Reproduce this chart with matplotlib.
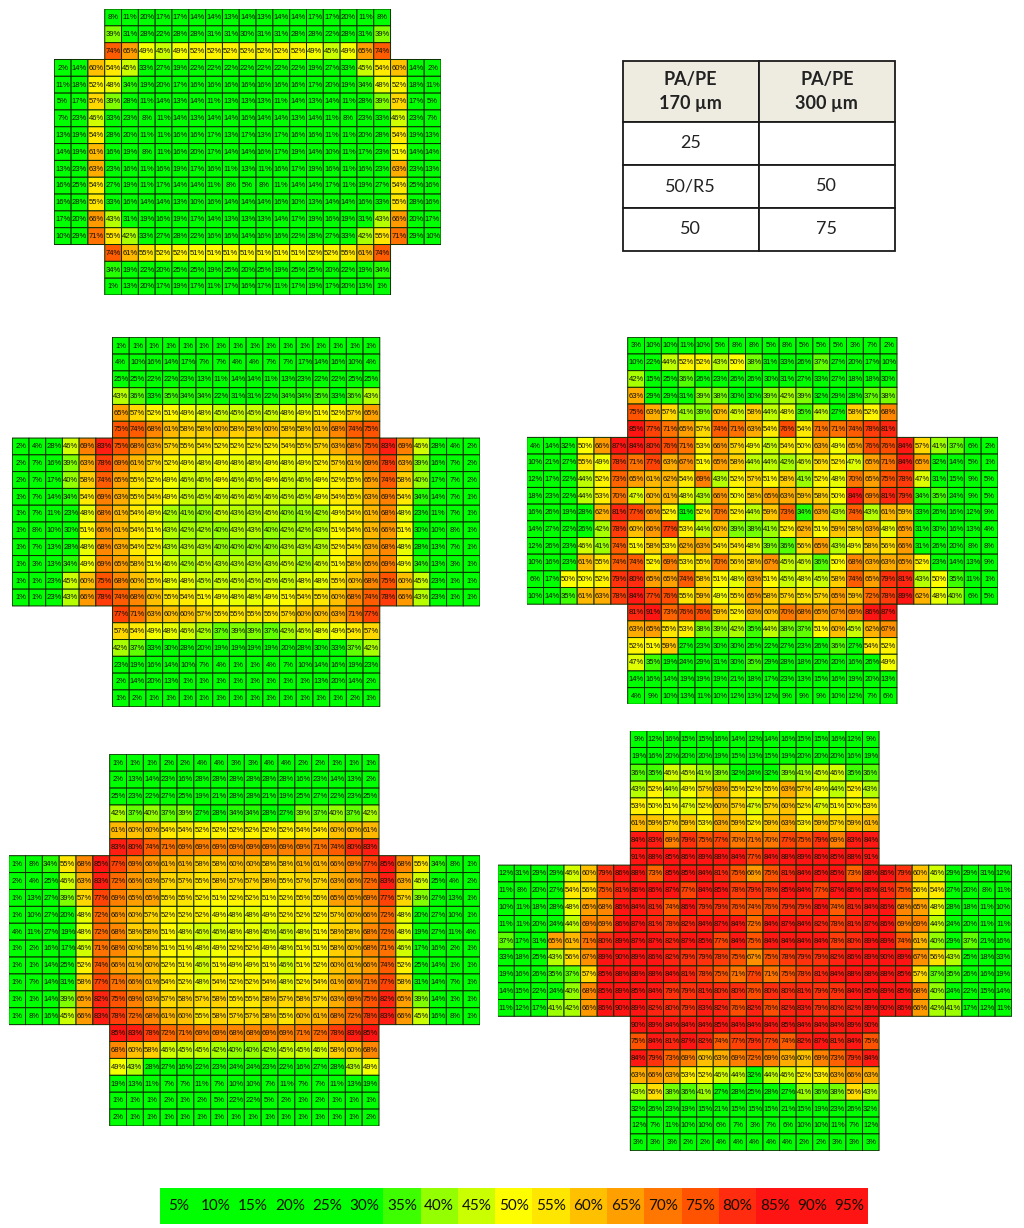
# Film thickness / transmission maps for five shot patterns, with colour key and sample table

import numpy as np
import matplotlib
matplotlib.use("Agg")
import matplotlib.pyplot as plt
from matplotlib.colors import LinearSegmentedColormap, Normalize

# Panel values, row by row. Short rows are centred in the grid.
panel_a = [
    [8, 11, 20, 17, 17, 14, 14, 13, 14, 13, 14, 14, 17, 17, 20, 11, 8],
    [39, 31, 28, 22, 28, 28, 31, 31, 30, 31, 31, 28, 28, 22, 28, 31, 39],
    [74, 65, 49, 45, 49, 52, 52, 52, 52, 52, 52, 52, 49, 45, 49, 65, 74],
    [2, 14, 60, 54, 45, 33, 27, 19, 22, 22, 22, 22, 22, 22, 22, 19, 27, 33, 45, 54, 60, 14, 2],
    [11, 18, 52, 48, 34, 19, 20, 17, 16, 16, 16, 16, 16, 16, 16, 17, 20, 19, 34, 48, 52, 18, 11],
    [5, 17, 57, 39, 28, 11, 14, 13, 14, 11, 13, 13, 13, 11, 14, 13, 14, 11, 28, 39, 57, 17, 5],
    [7, 23, 46, 33, 23, 8, 11, 14, 13, 14, 14, 16, 14, 14, 13, 14, 11, 8, 23, 33, 46, 23, 7],
    [13, 19, 54, 28, 20, 11, 11, 16, 16, 17, 13, 17, 13, 17, 16, 16, 11, 11, 20, 28, 54, 19, 13],
    [14, 19, 61, 16, 19, 8, 11, 16, 20, 17, 14, 14, 16, 17, 19, 14, 10, 11, 17, 23, 51, 14, 14],
    [13, 23, 63, 23, 16, 11, 16, 19, 17, 16, 11, 13, 11, 16, 17, 19, 16, 11, 16, 23, 63, 23, 13],
    [16, 25, 54, 27, 19, 11, 17, 14, 14, 11, 8, 5, 8, 11, 14, 14, 17, 11, 19, 27, 54, 25, 16],
    [16, 28, 55, 33, 16, 14, 14, 13, 10, 16, 14, 14, 14, 16, 10, 13, 14, 14, 16, 33, 55, 28, 16],
    [17, 20, 66, 43, 31, 19, 16, 19, 17, 14, 13, 13, 13, 14, 17, 19, 16, 19, 31, 43, 66, 20, 17],
    [10, 29, 71, 55, 42, 33, 27, 28, 22, 16, 16, 14, 16, 16, 22, 28, 27, 33, 42, 55, 71, 29, 10],
    [74, 61, 55, 52, 52, 51, 51, 51, 51, 51, 51, 51, 52, 52, 55, 61, 74],
    [34, 19, 22, 20, 25, 25, 19, 25, 20, 25, 19, 25, 25, 20, 22, 19, 34],
    [1, 13, 20, 17, 19, 17, 11, 17, 16, 17, 11, 17, 19, 17, 20, 13, 1],
]

panel_b = [
    [1, 1, 1, 1, 1, 1, 1, 1, 1, 1, 1, 1, 1, 1, 1, 1],
    [4, 10, 16, 14, 17, 7, 7, 4, 4, 7, 7, 17, 14, 16, 10, 4],
    [25, 25, 22, 22, 23, 13, 11, 14, 14, 11, 13, 23, 22, 22, 25, 25],
    [43, 36, 33, 35, 34, 34, 22, 31, 31, 22, 34, 34, 35, 33, 36, 43],
    [65, 57, 52, 51, 49, 48, 45, 45, 45, 45, 48, 49, 51, 52, 57, 65],
    [75, 74, 68, 61, 58, 58, 60, 58, 58, 60, 58, 58, 61, 68, 74, 75],
    [2, 4, 28, 46, 69, 83, 75, 68, 63, 57, 55, 54, 52, 52, 52, 52, 54, 55, 57, 63, 68, 75, 83, 69, 46, 28, 4, 2],
    [2, 7, 16, 39, 63, 78, 69, 61, 57, 52, 49, 48, 49, 48, 48, 49, 48, 49, 52, 57, 61, 69, 78, 63, 39, 16, 7, 2],
    [2, 7, 17, 40, 58, 74, 65, 55, 52, 49, 46, 46, 49, 46, 46, 49, 46, 46, 49, 52, 55, 65, 74, 58, 40, 17, 7, 2],
    [1, 7, 14, 34, 54, 69, 63, 55, 54, 49, 45, 45, 46, 46, 46, 46, 45, 45, 49, 54, 55, 63, 69, 54, 34, 14, 7, 1],
    [1, 7, 11, 23, 48, 68, 61, 54, 49, 42, 41, 40, 45, 43, 43, 45, 40, 41, 42, 49, 54, 61, 68, 48, 23, 11, 7, 1],
    [1, 8, 10, 30, 51, 66, 61, 54, 51, 43, 42, 42, 40, 43, 43, 40, 42, 42, 43, 51, 54, 61, 66, 51, 30, 10, 8, 1],
    [1, 7, 13, 28, 48, 68, 63, 54, 52, 43, 43, 43, 40, 40, 40, 40, 43, 43, 43, 52, 54, 63, 68, 48, 28, 13, 7, 1],
    [1, 3, 13, 34, 49, 69, 65, 58, 51, 46, 42, 45, 43, 43, 43, 43, 45, 42, 46, 51, 58, 65, 69, 49, 34, 13, 3, 1],
    [1, 1, 23, 45, 60, 75, 68, 60, 55, 48, 48, 45, 45, 45, 45, 45, 45, 48, 48, 55, 60, 68, 75, 60, 45, 23, 1, 1],
    [1, 1, 23, 43, 66, 78, 74, 68, 60, 55, 54, 51, 49, 48, 48, 49, 51, 54, 55, 60, 68, 74, 78, 66, 43, 23, 1, 1],
    [77, 71, 63, 60, 60, 57, 55, 55, 55, 55, 57, 60, 60, 63, 71, 77],
    [57, 54, 49, 48, 46, 42, 37, 39, 39, 37, 42, 46, 48, 49, 54, 57],
    [42, 37, 33, 30, 28, 20, 19, 19, 19, 19, 20, 28, 30, 33, 37, 42],
    [23, 19, 16, 14, 10, 7, 4, 1, 1, 4, 7, 10, 14, 16, 19, 23],
    [2, 14, 20, 13, 1, 1, 1, 1, 1, 1, 1, 1, 13, 20, 14, 2],
    [1, 2, 1, 1, 1, 1, 1, 1, 1, 1, 1, 1, 1, 1, 2, 1],
]

panel_c = [
    [3, 10, 10, 11, 10, 5, 8, 8, 5, 8, 5, 5, 5, 3, 7, 2],
    [10, 22, 44, 52, 52, 43, 50, 38, 31, 33, 26, 37, 27, 20, 17, 10],
    [42, 15, 25, 36, 26, 23, 26, 26, 30, 31, 27, 33, 27, 18, 18, 30],
    [63, 29, 29, 31, 39, 38, 30, 30, 39, 42, 39, 32, 29, 28, 37, 38],
    [75, 63, 57, 41, 39, 60, 46, 58, 44, 48, 35, 44, 27, 58, 52, 68],
    [85, 77, 71, 65, 57, 74, 71, 63, 54, 76, 54, 71, 71, 74, 78, 81],
    [4, 14, 32, 50, 66, 87, 84, 80, 76, 71, 53, 66, 57, 49, 45, 54, 50, 63, 49, 65, 76, 76, 84, 57, 41, 37, 6, 2],
    [10, 21, 27, 55, 49, 78, 71, 77, 63, 67, 51, 65, 58, 44, 44, 42, 46, 56, 52, 47, 65, 71, 84, 65, 32, 14, 5, 1],
    [12, 17, 22, 44, 52, 73, 65, 61, 62, 54, 69, 43, 52, 57, 51, 58, 41, 52, 48, 70, 65, 75, 78, 47, 31, 15, 9, 5],
    [18, 23, 22, 44, 53, 70, 47, 60, 61, 48, 43, 66, 50, 58, 65, 63, 59, 58, 50, 84, 69, 81, 79, 34, 35, 24, 9, 5],
    [16, 26, 19, 28, 62, 81, 77, 66, 52, 31, 52, 70, 52, 44, 59, 73, 34, 63, 43, 74, 43, 61, 59, 33, 26, 16, 12, 9],
    [14, 27, 22, 26, 42, 78, 60, 66, 77, 53, 44, 60, 39, 38, 41, 52, 62, 51, 59, 58, 63, 48, 65, 31, 30, 16, 13, 4],
    [12, 26, 23, 46, 41, 74, 51, 58, 53, 62, 63, 54, 54, 48, 39, 36, 56, 65, 43, 49, 58, 56, 66, 31, 26, 20, 8, 8],
    [10, 16, 23, 61, 55, 74, 74, 52, 69, 53, 55, 70, 56, 58, 67, 45, 46, 36, 50, 68, 63, 63, 65, 52, 23, 14, 13, 9],
    [6, 17, 50, 50, 52, 79, 80, 65, 65, 74, 58, 51, 48, 63, 51, 45, 48, 45, 58, 74, 65, 79, 81, 43, 50, 35, 11, 1],
    [10, 14, 35, 61, 63, 78, 84, 77, 76, 55, 59, 49, 55, 65, 58, 57, 55, 57, 65, 59, 72, 78, 89, 62, 48, 40, 6, 5],
    [81, 91, 73, 76, 76, 59, 52, 63, 60, 70, 68, 65, 67, 69, 86, 87],
    [63, 65, 55, 53, 38, 39, 42, 35, 44, 38, 37, 51, 60, 45, 62, 67],
    [52, 51, 59, 27, 23, 30, 30, 26, 22, 27, 23, 26, 36, 27, 54, 52],
    [47, 35, 19, 24, 29, 31, 30, 35, 29, 28, 18, 20, 20, 16, 26, 49],
    [14, 16, 14, 19, 19, 19, 21, 18, 17, 23, 13, 15, 16, 19, 20, 13],
    [4, 9, 10, 13, 11, 10, 12, 13, 12, 9, 9, 9, 10, 12, 7, 6],
]

panel_d = [
    [1, 1, 1, 2, 2, 4, 4, 3, 3, 4, 4, 2, 2, 1, 1, 1],
    [2, 13, 14, 23, 16, 28, 28, 28, 28, 28, 28, 16, 23, 14, 13, 2],
    [25, 23, 22, 27, 25, 19, 21, 28, 28, 21, 19, 25, 27, 22, 23, 25],
    [42, 37, 40, 37, 39, 27, 28, 34, 34, 28, 27, 39, 37, 40, 37, 42],
    [61, 60, 60, 54, 54, 52, 52, 52, 52, 52, 52, 54, 54, 60, 60, 61],
    [83, 80, 74, 71, 69, 69, 69, 69, 69, 69, 69, 69, 71, 74, 80, 83],
    [1, 8, 34, 55, 68, 85, 77, 69, 66, 61, 61, 58, 58, 60, 60, 58, 58, 61, 61, 66, 69, 77, 85, 68, 55, 34, 8, 1],
    [2, 4, 25, 46, 63, 83, 72, 66, 63, 57, 57, 55, 58, 57, 57, 58, 55, 57, 57, 63, 66, 72, 83, 63, 46, 25, 4, 2],
    [1, 13, 27, 39, 57, 77, 69, 65, 65, 55, 55, 52, 51, 52, 52, 51, 52, 55, 55, 65, 65, 69, 77, 57, 39, 27, 13, 1],
    [1, 10, 27, 20, 48, 72, 66, 60, 57, 52, 52, 52, 49, 48, 48, 49, 52, 52, 52, 57, 60, 66, 72, 48, 20, 27, 10, 1],
    [4, 11, 27, 19, 48, 72, 68, 58, 58, 51, 48, 46, 46, 48, 48, 46, 46, 48, 51, 58, 58, 68, 72, 48, 19, 27, 11, 4],
    [1, 2, 16, 17, 46, 71, 68, 60, 58, 51, 51, 48, 49, 52, 52, 49, 48, 51, 51, 58, 60, 68, 71, 46, 17, 16, 2, 1],
    [1, 1, 14, 25, 52, 74, 66, 61, 60, 52, 51, 46, 51, 49, 49, 51, 46, 51, 52, 60, 61, 66, 74, 52, 25, 14, 1, 1],
    [1, 7, 14, 31, 58, 77, 71, 66, 61, 54, 52, 48, 54, 52, 52, 54, 48, 52, 54, 61, 66, 71, 77, 58, 31, 14, 7, 1],
    [1, 1, 14, 39, 65, 82, 75, 69, 63, 57, 58, 57, 58, 55, 55, 58, 57, 58, 57, 63, 69, 75, 82, 65, 39, 14, 1, 1],
    [1, 8, 16, 45, 66, 83, 78, 72, 68, 61, 60, 55, 58, 57, 57, 58, 55, 60, 61, 68, 72, 78, 83, 66, 45, 16, 8, 1],
    [85, 83, 78, 72, 71, 69, 69, 68, 68, 69, 69, 71, 72, 78, 83, 85],
    [68, 60, 58, 46, 45, 45, 42, 40, 40, 42, 45, 45, 46, 58, 60, 68],
    [49, 43, 28, 27, 16, 22, 23, 24, 24, 23, 22, 16, 27, 28, 43, 49],
    [19, 13, 11, 7, 7, 11, 7, 10, 10, 7, 11, 7, 7, 11, 13, 19],
    [1, 1, 1, 2, 1, 2, 5, 22, 22, 5, 2, 1, 2, 1, 1, 1],
    [2, 1, 1, 1, 1, 1, 1, 1, 1, 1, 1, 1, 1, 1, 1, 2],
]

panel_e = [
    [9, 12, 16, 15, 15, 16, 14, 12, 14, 16, 15, 15, 16, 12, 9],
    [19, 16, 20, 20, 20, 19, 15, 13, 15, 19, 20, 20, 20, 16, 19],
    [36, 35, 46, 45, 41, 39, 32, 24, 32, 39, 41, 45, 46, 35, 36],
    [43, 52, 44, 49, 57, 63, 55, 52, 55, 63, 57, 49, 44, 52, 43],
    [53, 50, 51, 47, 52, 60, 57, 47, 57, 60, 52, 47, 51, 50, 53],
    [61, 59, 57, 59, 53, 63, 59, 52, 59, 63, 53, 59, 57, 59, 61],
    [84, 83, 69, 79, 75, 77, 70, 71, 70, 77, 75, 79, 69, 83, 84],
    [91, 88, 85, 86, 89, 88, 84, 77, 84, 88, 89, 86, 85, 88, 91],
    [12, 31, 29, 29, 46, 60, 79, 86, 88, 73, 85, 85, 84, 81, 75, 66, 75, 81, 84, 85, 85, 73, 88, 86, 79, 60, 46, 29, 29, 31, 12],
    [11, 8, 20, 27, 54, 56, 75, 81, 86, 86, 87, 77, 84, 85, 78, 79, 78, 85, 84, 77, 87, 86, 86, 81, 75, 56, 54, 27, 20, 8, 11],
    [10, 11, 18, 28, 48, 65, 68, 86, 84, 81, 74, 86, 79, 79, 76, 74, 76, 79, 79, 86, 74, 81, 84, 86, 68, 65, 48, 28, 18, 11, 10],
    [11, 11, 20, 24, 44, 69, 69, 86, 87, 81, 78, 82, 84, 87, 84, 72, 84, 87, 84, 82, 78, 81, 87, 86, 69, 69, 44, 24, 20, 11, 11],
    [37, 17, 31, 65, 61, 71, 80, 89, 87, 87, 82, 87, 85, 77, 84, 75, 84, 84, 84, 84, 78, 80, 89, 89, 74, 61, 40, 29, 37, 21, 16],
    [33, 18, 25, 43, 56, 67, 89, 90, 89, 86, 82, 79, 79, 78, 75, 67, 75, 78, 79, 79, 82, 86, 89, 90, 89, 67, 56, 43, 25, 18, 33],
    [19, 16, 26, 35, 37, 57, 85, 88, 88, 88, 84, 81, 78, 75, 71, 77, 71, 75, 78, 81, 84, 88, 88, 88, 85, 57, 37, 35, 26, 16, 19],
    [14, 15, 22, 24, 40, 68, 85, 89, 85, 84, 79, 79, 81, 80, 80, 76, 80, 80, 81, 79, 79, 84, 85, 89, 85, 68, 40, 24, 22, 15, 14],
    [11, 12, 17, 41, 42, 66, 86, 90, 89, 82, 80, 79, 83, 82, 76, 82, 76, 82, 83, 79, 80, 82, 89, 90, 86, 66, 42, 41, 17, 12, 11],
    [90, 89, 84, 84, 84, 85, 84, 84, 84, 85, 84, 84, 84, 89, 90],
    [75, 84, 81, 87, 82, 74, 77, 79, 77, 74, 82, 87, 81, 84, 75],
    [84, 79, 73, 69, 60, 63, 69, 72, 69, 63, 60, 69, 73, 79, 84],
    [63, 66, 63, 53, 52, 46, 44, 32, 44, 46, 52, 53, 63, 66, 63],
    [43, 56, 38, 36, 41, 27, 28, 25, 28, 27, 41, 36, 38, 56, 43],
    [32, 26, 23, 19, 15, 21, 15, 15, 15, 21, 15, 19, 23, 26, 32],
    [12, 7, 11, 10, 10, 6, 7, 3, 7, 6, 10, 10, 11, 7, 12],
    [3, 3, 3, 2, 2, 4, 4, 4, 4, 4, 2, 2, 3, 3, 3],
]

key_values = [5, 10, 15, 20, 25, 30, 35, 40, 45, 50, 55, 60, 65, 70, 75, 80, 85, 90, 95]

table_header = ["PA/PE\n170 µm", "PA/PE\n300 µm"]
table_rows = [["25", ""], ["50/R5", "50"], ["50", "75"]]

# Colour scale
scale_stops = [0, 33, 35, 40, 45, 50, 55, 60, 65, 70, 75, 80, 85, 100]
scale_colours = ["#00ff00", "#00ff00", "#40ff00", "#94ff00", "#c8ff00", "#ffff00", "#ffe600",
                 "#ffc000", "#ffa000", "#ff7800", "#ff5500", "#ff2c10", "#ff1414", "#ff1414"]

FIG_W = 1024
FIG_H = 1228
norm = Normalize(0, 100)
cmap = LinearSegmentedColormap.from_list(
    "heat", [(s / 100, c) for s, c in zip(scale_stops, scale_colours)]
)


# Axes from a box in image pixels
def pixelAxes(fig, left, right, top, bottom):
    return fig.add_axes(
        [left / FIG_W, 1 - bottom / FIG_H, (right - left) / FIG_W, (bottom - top) / FIG_H]
    )


# Pad the short rows so that they sit centred, leaving masked cells
def toGrid(rows):
    ncol = max(len(r) for r in rows)
    grid = np.full((len(rows), ncol), np.nan)
    for i, r in enumerate(rows):
        pad = (ncol - len(r)) // 2
        grid[i, pad : pad + len(r)] = r
    return grid


def drawPanel(fig, rows, box):
    ax = pixelAxes(fig, *box)
    grid = toGrid(rows)
    ax.pcolor(np.ma.masked_invalid(grid), cmap=cmap, norm=norm, edgecolors="#0a2a00", linewidth=0.7)
    ax.set_xlim(0, grid.shape[1])
    ax.set_ylim(grid.shape[0], 0)
    ax.set_axis_off()
    for (i, j), v in np.ndenumerate(grid):
        if np.isnan(v):
            continue
        ax.text(j + 0.5, i + 0.52, "%d%%" % v, ha="center", va="center",
                fontsize=5.5, family="Liberation Sans", color="#101000")


def drawKey(fig):
    ax = pixelAxes(fig, 159.5, 868, 1188, 1224)
    ax.pcolormesh([key_values], cmap=cmap, norm=norm)
    ax.set_axis_off()
    for j, v in enumerate(key_values):
        ax.text(j + 0.5, 0.5, "%d%%" % v, ha="center", va="center",
                fontsize=11, family="Lato", color="#101000")


def drawTable(fig):
    ax = pixelAxes(fig, 622.5, 895, 61, 251)
    ax.set_axis_off()
    tbl = ax.table(cellText=table_rows, colLabels=table_header, cellLoc="center", bbox=[0, 0, 1, 1])
    tbl.auto_set_font_size(False)
    for (r, c), cell in tbl.get_celld().items():
        cell.set_linewidth(1.3)
        cell.set_edgecolor("#1a1a1a")
        cell.set_width(0.5)
        cell.set_height(60.7 if r == 0 else 43.1)
        cell.set_text_props(family="Lato", fontsize=13, color="#222222",
                            weight="bold" if r == 0 else "normal", linespacing=1.5)
        if r == 0:
            cell.set_facecolor("#eeece1")


fig = plt.figure(figsize=(FIG_W / 100, FIG_H / 100), dpi=100, facecolor="white")

drawPanel(fig, panel_a, (54.3, 441, 9, 295))
drawPanel(fig, panel_b, (12.3, 480, 337.3, 706.7))
drawPanel(fig, panel_c, (526.7, 998, 337.3, 704.3))
drawPanel(fig, panel_d, (8.7, 480, 754.3, 1126))
drawPanel(fig, panel_e, (497.7, 1011.7, 730.7, 1150.7))
drawKey(fig)
drawTable(fig)

fig.savefig("out.png", dpi=100)
